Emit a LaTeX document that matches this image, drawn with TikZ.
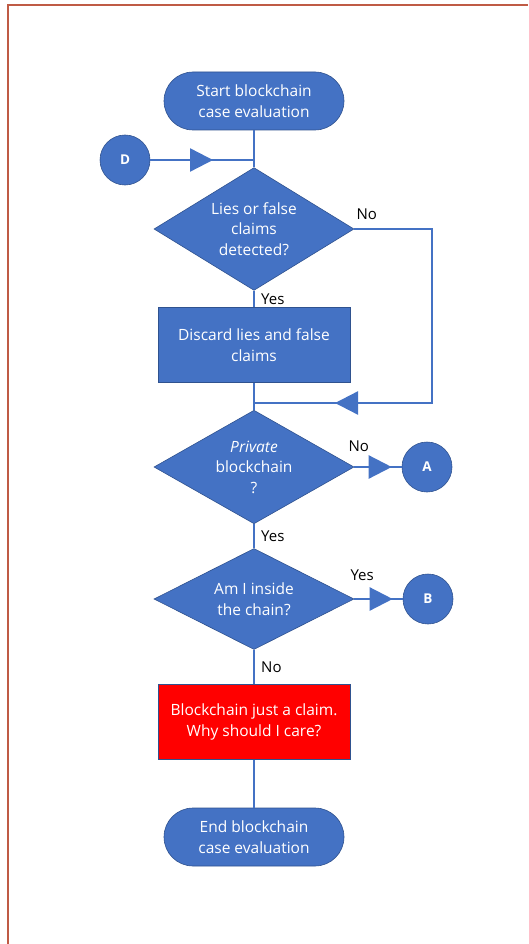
\documentclass[tikz,border=0pt]{standalone}
\usepackage{fontspec}
\setmainfont{Open Sans}
\usetikzlibrary{shapes.geometric,arrows.meta,decorations.markings,positioning}
\definecolor{flowBlue}{HTML}{4472C4}
\definecolor{flowEdge}{HTML}{2F528F}
\definecolor{flowRed}{HTML}{FF0000}
\definecolor{frameRed}{HTML}{BF5B45}

\begin{document}
\begin{tikzpicture}[x=1pt, y=-1pt, font=\fontsize{15.5}{20.5}\selectfont,
		terminal/.style={rectangle, rounded corners=29pt, fill=flowBlue, draw=flowEdge, line width=.6pt, text=white, align=center, minimum width=180pt, minimum height=58pt},
		decision/.style={diamond, fill=flowBlue, draw=flowEdge, line width=.6pt, text=white, align=center, inner sep=-4pt, minimum width=200pt, minimum height=101pt},
		process/.style={rectangle, fill=flowBlue, draw=flowEdge, line width=.6pt, text=white, align=center, minimum width=192pt, minimum height=75pt},
		connector/.style={circle, fill=flowBlue, draw=flowEdge, line width=.6pt, text=white, font=\fontsize{13.5}{15}\selectfont\bfseries, minimum size=50pt, inner sep=0pt},
		flow/.style={draw=flowBlue, line width=2.4pt},
		midarrow/.style={postaction={decorate}, decoration={markings, mark=at position #1 with {\arrow{Triangle[length=23pt, width=23pt]}}}},
		lbl/.style={text=black, inner sep=1pt, font=\fontsize{15}{16}\selectfont}]
		\useasboundingbox (0,0) rectangle (528,944);
		\draw [frameRed, line width=2.5pt] (8,944) -- (8,5) -- (528,5);
		\node (startT) [terminal] at (254,101) {Start blockchain\\case evaluation};
		\node (conD) [connector] at (125,160) {D};
		\node (diaLies) [decision] at (254,229) {Lies or false\\claims\\detected?};
		\node (boxDiscard) [process] at (254,345) {Discard lies and false\\claims};
		\node (diaPrivate) [decision] at (254,467) {\textit{Private}\\blockchain\\?};
		\node (conA) [connector] at (427,467) {A};
		\node (diaInside) [decision] at (254,599) {Am I inside\\the chain?};
		\node (conB) [connector] at (428,599) {B};
		\node (boxClaim) [process, fill=flowRed] at (254,722) {Blockchain just a claim.\\Why should I care?};
		\node (endT) [terminal] at (254,837) {End blockchain\\case evaluation};
		\coordinate (joinD) at (startT.south |- conD);
		\coordinate (loopR) at (432,403);
		\coordinate (joinL) at (startT.south |- loopR);
		\draw [flow] (startT) -- (diaLies);
		\draw [flow, midarrow=-41pt] (conD) -- (joinD);
		\draw [flow] (diaLies) -- node [lbl, right, xshift=5pt] {Yes} (boxDiscard);
		\draw [flow, midarrow=-81pt] (diaLies.east) -| node [lbl, pos=0, anchor=south west, xshift=0pt, yshift=7pt] {No} (loopR) -- (joinL);
		\draw [flow] (boxDiscard) -- (diaPrivate);
		\draw [flow, midarrow=-10pt] (diaPrivate) -- node [lbl, pos=0, anchor=south west, xshift=-8pt, yshift=13pt] {No} (conA);
		\draw [flow] (diaPrivate) -- node [lbl, right, xshift=5pt] {Yes} (diaInside);
		\draw [flow, midarrow=-10pt] (diaInside) -- node [lbl, pos=0, anchor=south west, xshift=-6pt, yshift=16pt] {Yes} (conB);
		\draw [flow] (diaInside) -- node [lbl, right, xshift=5pt] {No} (boxClaim);
		\draw [flow] (boxClaim) -- (endT);
	\end{tikzpicture}
\end{document}
